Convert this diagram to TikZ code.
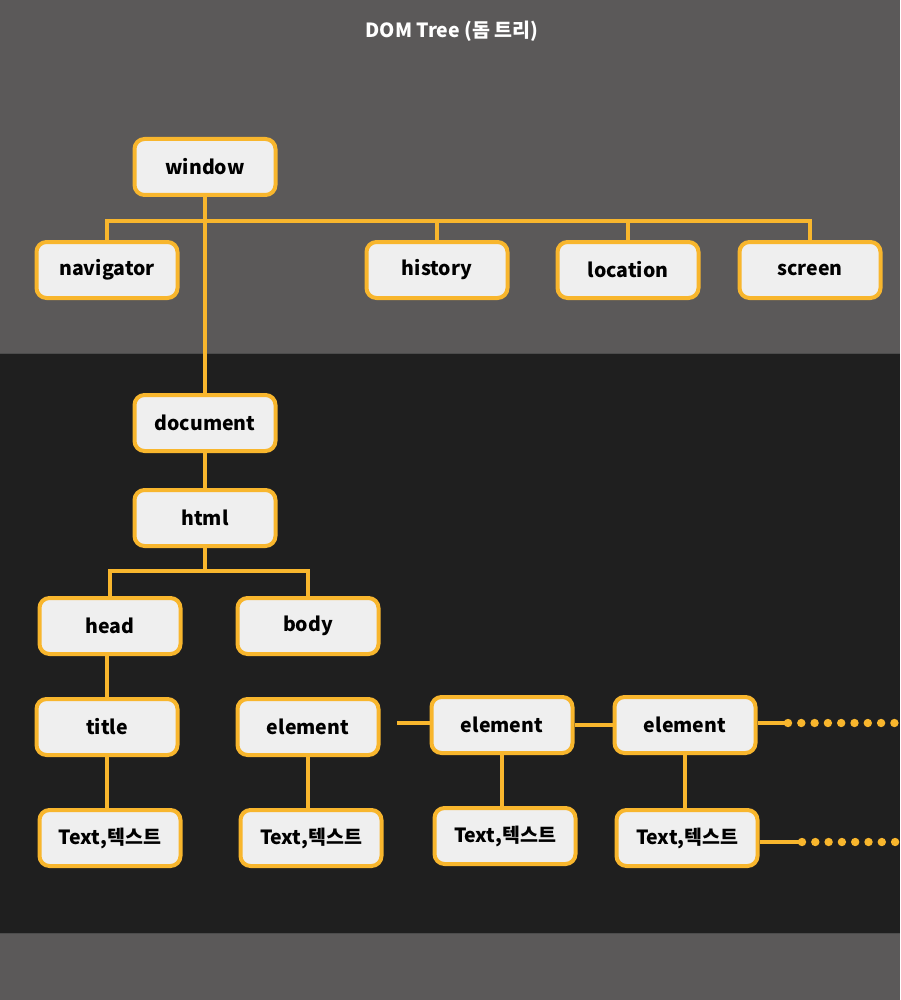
\documentclass[tikz,border=0pt]{standalone}
\usepackage{fontspec}
\usetikzlibrary{calc}
\setmainfont{Noto Sans CJK KR}
\definecolor{bggray}{HTML}{5B5959}
\definecolor{bgdark}{HTML}{1F1F1F}
\definecolor{ycol}{HTML}{F8B62D}
\definecolor{boxfill}{HTML}{EFEFEF}
\begin{document}
\begin{tikzpicture}[x=1pt,y=-1pt,
  box/.style={draw=ycol, line width=4pt, fill=boxfill, rounded corners=10pt,
    minimum width=141pt, minimum height=56pt, inner sep=0pt,
    font=\bfseries\fontsize{19.5}{22}\selectfont, text=black},
  conn/.style={draw=ycol, line width=4pt},
  dotty/.style={fill=ycol}]
\useasboundingbox (0,0) rectangle (900,1000);
\fill[bggray] (0,0) rectangle (900,353);
\fill[bgdark] (0,353) rectangle (900,933);
\fill[bggray] (0,933) rectangle (900,1000);
\draw[black!70, line width=1pt] (0,353) -- (900,353);
\draw[black!70, line width=1pt] (0,933) -- (900,933);
\node[text=white, font=\bfseries\fontsize{19.5}{22}\selectfont] (title) at (452,31) {DOM Tree (돔 트리)};
% nodes
\node[box] (window) at (205,167) {window};
\node[box] (navigator) at (107,270) {navigator};
\node[box] (history) at (437,270) {history};
\node[box] (location) at (628,270) {location};
\node[box] (screen) at (810,270) {screen};
\node[box] (document) at (205,423) {document};
\node[box] (html) at (205,518) {html};
\node[box] (head) at (110,626) {head};
\node[box] (body) at (308,626) {body};
\node[box] (title2) at (107,727) {title};
\node[box] (el1) at (308,727) {element};
\node[box] (el2) at (502,725) {element};
\node[box] (el3) at (685,725) {element};
\node[box] (t1) at (110,838) {Text,텍스트};
\node[box] (t2) at (311,838) {Text,텍스트};
\node[box] (t3) at (505,836) {Text,텍스트};
\node[box] (t4) at (687,838) {Text,텍스트};
% coordinates
\coordinate (bus) at (0,221);
\coordinate (hbus) at (0,571);
\coordinate (e1r) at (397,723);
\coordinate (d1) at (788,723);
\coordinate (d2) at (802,842);
% connectors
\draw[conn] (window.south) -- (document.north);
\draw[conn] (navigator.north) -- (navigator.north |- bus) -- (screen.north |- bus) -- (screen.north);
\draw[conn] (history.north) -- (history.north |- bus);
\draw[conn] (location.north) -- (location.north |- bus);
\draw[conn] (document.south) -- (html.north);
\draw[conn] (html.south) -- (html.south |- hbus);
\draw[conn] (head.north) -- (head.north |- hbus) -- (body.north |- hbus) -- (body.north);
\draw[conn] (title2.north) -- (title2.north |- head.south);
\draw[conn] (title2.south) -- (title2.south |- t1.north);
\draw[conn] (el1.south) -- (el1.south |- t2.north);
\draw[conn] (e1r) -- (el2.west |- e1r);
\draw[conn] (el2.east) -- (el3.west);
\draw[conn] (el2.south) -- (el2.south |- t3.north);
\draw[conn] (el3.south) -- (el3.south |- t4.north);
\draw[conn] (el3.east |- d1) -- (d1);
\draw[conn] (t4.east |- d2) -- (d2);
\foreach \i in {0,...,8} \fill[dotty] ($(d1)+(\i*13.3,0)$) circle (4.2pt);
\foreach \i in {0,...,7} \fill[dotty] ($(d2)+(\i*13.3,0)$) circle (4.2pt);
\end{tikzpicture}
\end{document}
